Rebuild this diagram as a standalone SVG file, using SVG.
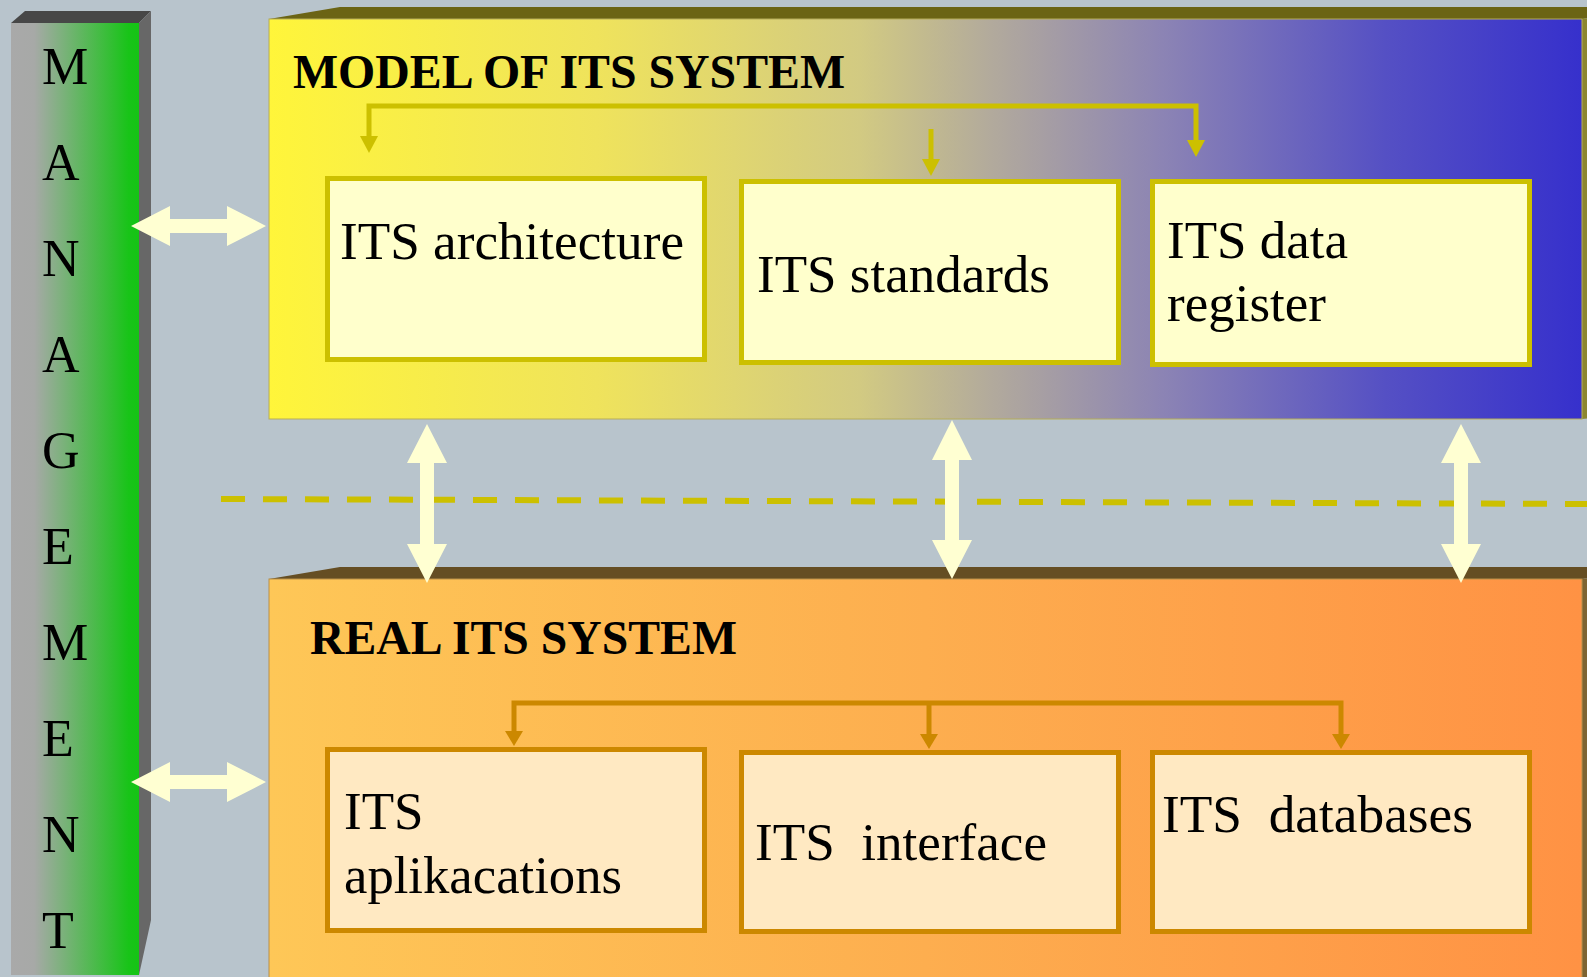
<svg xmlns="http://www.w3.org/2000/svg" width="1587" height="977" viewBox="0 0 1587 977">
  <style>
    .letter { font-family: "Liberation Serif", "Times New Roman", serif; font-size: 52px; fill: #000; }
    .title { font-family: "Liberation Serif", "Times New Roman", serif; font-size: 48px; font-weight: bold; fill: #000; }
    .label { font-family: "Liberation Serif", "Times New Roman", serif; font-size: 53px; fill: #000; white-space: pre; }
    .mbox { fill: #FFFFCC; stroke: #CCC000; stroke-width: 5; }
    .rbox { fill: #FFE9C2; stroke: #CC8800; stroke-width: 5; }
    .ylink { fill: none; stroke: #CCC000; stroke-width: 5; }
    .olink { fill: none; stroke: #CC8800; stroke-width: 5; }
    .dbl { fill: #FFFFD2; }
  </style>
  <defs>
    <linearGradient id="gBar" gradientUnits="userSpaceOnUse" x1="11" y1="0" x2="139" y2="0">
      <stop offset="0" stop-color="#A9A9A9"/>
      <stop offset="0.18" stop-color="#A7A9A7"/>
      <stop offset="0.92" stop-color="#18C418"/>
      <stop offset="1" stop-color="#15C415"/>
    </linearGradient>
    <linearGradient id="gModel" gradientUnits="userSpaceOnUse" x1="269" y1="0" x2="1582" y2="0">
      <stop offset="0" stop-color="#FFF53A"/>
      <stop offset="0.25" stop-color="#EFE35C"/>
      <stop offset="0.45" stop-color="#D2CA82"/>
      <stop offset="0.55" stop-color="#B2AA9C"/>
      <stop offset="0.68" stop-color="#8C84B4"/>
      <stop offset="0.85" stop-color="#5550C4"/>
      <stop offset="1" stop-color="#3630CC"/>
    </linearGradient>
    <linearGradient id="gReal" gradientUnits="userSpaceOnUse" x1="269" y1="0" x2="1582" y2="0">
      <stop offset="0" stop-color="#FEC757"/>
      <stop offset="0.5" stop-color="#FDAE4F"/>
      <stop offset="1" stop-color="#FF9244"/>
    </linearGradient>
    <marker id="headY" viewBox="0 0 17 18" refX="0" refY="9" markerWidth="17" markerHeight="18" markerUnits="userSpaceOnUse" orient="auto-start-reverse">
      <path d="M0,0 L17,9 L0,18 z" fill="#CCC000"/>
    </marker>
    <marker id="headO" viewBox="0 0 15 18" refX="0" refY="9" markerWidth="15" markerHeight="18" markerUnits="userSpaceOnUse" orient="auto-start-reverse">
      <path d="M0,0 L15,9 L0,18 z" fill="#CC8800"/>
    </marker>
  </defs>

  <!-- backdrop -->
  <rect x="0" y="0" width="1587" height="977" fill="#B8C4CC"/>

  <!-- vertical MANAGEMENT bar -->
  <g id="management">
    <polygon points="11,23 25,11 151,11 139,23" fill="#474747"/>
    <polygon points="139,23 151,11 151,920 139,975" fill="#676767"/>
    <rect x="11" y="23" width="128" height="952" fill="url(#gBar)"/>
    <text class="letter" x="42" y="84">M</text>
    <text class="letter" x="42" y="180">A</text>
    <text class="letter" x="42" y="276">N</text>
    <text class="letter" x="42" y="372">A</text>
    <text class="letter" x="42" y="468">G</text>
    <text class="letter" x="42" y="564">E</text>
    <text class="letter" x="42" y="660">M</text>
    <text class="letter" x="42" y="756">E</text>
    <text class="letter" x="42" y="852">N</text>
    <text class="letter" x="42" y="948">T</text>
  </g>

  <!-- upper block: the model -->
  <g id="model-system">
    <polygon points="269,19 340,7 1660,7 1582,19" fill="#6B6414"/>
    <polygon points="1582,19 1660,7 1660,410 1582,419" fill="#8C8630"/>
    <rect x="269" y="19" width="1313" height="400" fill="url(#gModel)" stroke="#B5AC5A" stroke-width="1"/>
    <text class="title" x="293" y="88" textLength="552" lengthAdjust="spacingAndGlyphs">MODEL OF ITS SYSTEM</text>
  </g>

  <!-- lower block: the real system -->
  <g id="real-system">
    <polygon points="269,579 340,567 1660,567 1582,579" fill="#654E23"/>
    <polygon points="1582,579 1660,567 1660,977 1582,977" fill="#7E6432"/>
    <rect x="269" y="579" width="1313" height="410" fill="url(#gReal)" stroke="#B8904A" stroke-width="1"/>
    <text class="title" x="310" y="654" textLength="427" lengthAdjust="spacingAndGlyphs">REAL ITS SYSTEM</text>
  </g>

  <!-- boundary between model and reality -->
  <line id="divider" x1="221" y1="499" x2="1587" y2="504" stroke="#CCC000" stroke-width="6" stroke-dasharray="24 18"/>

  <!-- model components -->
  <g id="its-architecture">
    <rect class="mbox" x="327.5" y="178.5" width="377" height="181"/>
    <text class="label" x="340" y="259" textLength="344" lengthAdjust="spacingAndGlyphs">ITS architecture</text>
  </g>
  <g id="its-standards">
    <rect class="mbox" x="741.5" y="181.5" width="377" height="181"/>
    <text class="label" x="757" y="292" textLength="293" lengthAdjust="spacingAndGlyphs">ITS standards</text>
  </g>
  <g id="its-data-register">
    <rect class="mbox" x="1152.5" y="181.5" width="377" height="183"/>
    <text class="label" x="1167" y="258" textLength="181" lengthAdjust="spacingAndGlyphs">ITS data</text>
    <text class="label" x="1167" y="321">register</text>
  </g>

  <!-- real components -->
  <g id="its-applications">
    <rect class="rbox" x="327.5" y="749.5" width="377" height="181"/>
    <text class="label" x="344" y="829">ITS</text>
    <text class="label" x="344" y="893" textLength="278" lengthAdjust="spacingAndGlyphs">aplikacations</text>
  </g>
  <g id="its-interface">
    <rect class="rbox" x="741.5" y="752.5" width="377" height="179"/>
    <text class="label" x="755" y="860" xml:space="preserve" textLength="292" lengthAdjust="spacingAndGlyphs">ITS  interface</text>
  </g>
  <g id="its-databases">
    <rect class="rbox" x="1152.5" y="752.5" width="377" height="179"/>
    <text class="label" x="1162" y="832" xml:space="preserve" textLength="311" lengthAdjust="spacingAndGlyphs">ITS  databases</text>
  </g>

  <!-- connectors -->
  <g id="connectors">
    <path class="ylink" d="M369,136 V106 H1196 V140" marker-start="url(#headY)" marker-end="url(#headY)"/>
    <path class="ylink" d="M931,129 V159" marker-end="url(#headY)"/>
    <path class="olink" d="M514,731 V703 H1341 V734" marker-start="url(#headO)" marker-end="url(#headO)"/>
    <path class="olink" d="M929,703 V734" marker-end="url(#headO)"/>

    <!-- management links -->
    <polygon class="dbl" points="131,226 170,206 170,219 227,219 227,206 266,226 227,246 227,233 170,233 170,246"/>
    <polygon class="dbl" points="131,782 170,762 170,775 227,775 227,762 266,782 227,802 227,789 170,789 170,802"/>

    <!-- model / reality links -->
    <polygon class="dbl" points="427,424 447,463 434,463 434,544 447,544 427,583 407,544 420,544 420,463 407,463"/>
    <polygon class="dbl" points="952,420 972,460 959,460 959,540 972,540 952,579 932,540 945,540 945,460 932,460"/>
    <polygon class="dbl" points="1461,424 1481,463 1468,463 1468,544 1481,544 1461,583 1441,544 1454,544 1454,463 1441,463"/>
  </g>
</svg>
